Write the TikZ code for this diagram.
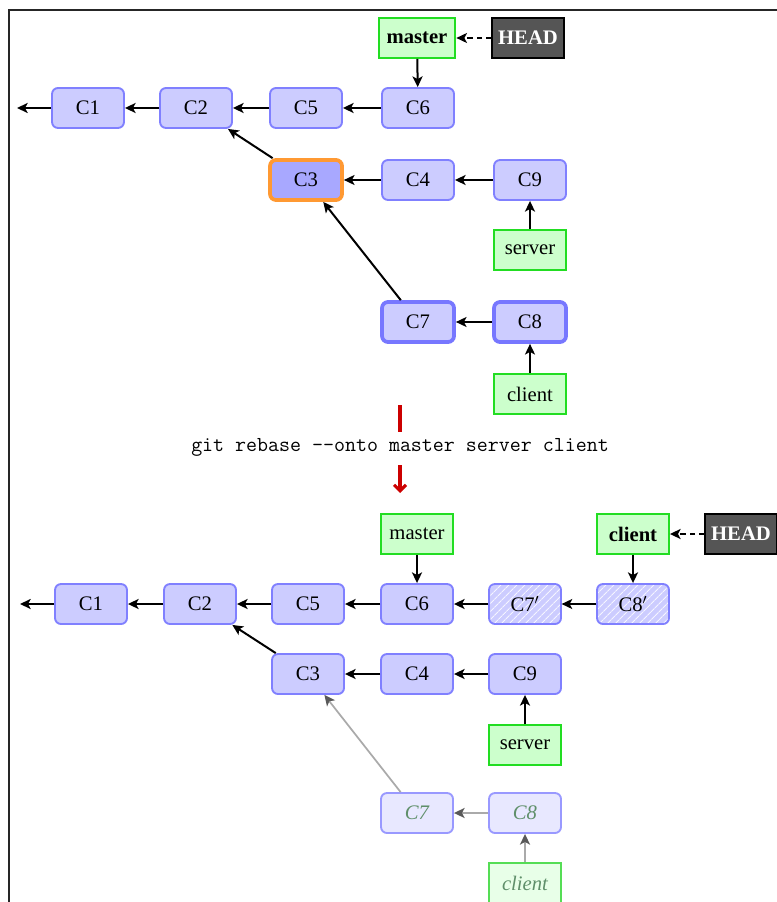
\documentclass[tikz,border=0pt]{standalone}
\usepackage{fontspec}
\setmainfont{Liberation Serif}
\usetikzlibrary{arrows.meta,patterns.meta}
\definecolor{cfill}{HTML}{CCCCFF}
\definecolor{cdraw}{HTML}{8080FF}
\definecolor{cthick}{HTML}{7777FF}
\definecolor{cthreefill}{HTML}{A8A8FF}
\definecolor{orng}{HTML}{FF9933}
\definecolor{gfill}{HTML}{CCFFCC}
\definecolor{gdraw}{HTML}{22DD22}
\definecolor{headfill}{HTML}{555555}
\definecolor{ffill}{HTML}{E8E8FF}
\definecolor{fdraw}{HTML}{9999FF}
\definecolor{fgfill}{HTML}{E8FFE8}
\definecolor{fgdraw}{HTML}{55DD55}
\definecolor{ftext}{HTML}{5F8F6A}
\definecolor{cred}{HTML}{CC0000}
\definecolor{fline}{HTML}{AAAAAA}
\begin{document}
\begin{tikzpicture}[x=0.75pt,y=-0.75pt,
  every node/.style={font=\fontsize{15.5}{18}\selectfont},
  commit/.style={draw=cdraw, fill=cfill, line width=1.4pt, rounded corners=4.5pt,
    minimum width=54pt, minimum height=30pt, inner sep=0pt},
  thickcommit/.style={commit, draw=cthick, line width=2.8pt},
  curcommit/.style={commit, draw=orng, fill=cthreefill, line width=2.8pt},
  hatchcommit/.style={commit, preaction={fill=cfill},
    pattern={Lines[angle=45, distance=4pt, line width=0.9pt]}, pattern color=white!80!cfill},
  fadecommit/.style={commit, draw=fdraw, fill=ffill, text=ftext, font=\fontsize{15.5}{18}\selectfont\itshape},
  branchbox/.style={draw=gdraw, fill=gfill, line width=1.4pt, minimum width=54pt,
    minimum height=30pt, inner xsep=6pt, inner ysep=0pt},
  fadebranch/.style={branchbox, draw=fgdraw, fill=fgfill, text=ftext, font=\fontsize{15.5}{18}\selectfont\itshape},
  headbox/.style={draw=black, fill=headfill, text=white, line width=1pt, minimum width=54pt,
    minimum height=30pt, inner sep=0pt, font=\fontsize{15.5}{18}\selectfont\bfseries},
  arr/.style={-{Stealth[length=8pt,width=7.5pt,inset=2pt]}, line width=1.5pt},
  fadearr/.style={-{Stealth[length=8pt,width=7.5pt,inset=2pt,color=black!65]}, line width=1.3pt, draw=fline},
  headarr/.style={arr, dash pattern=on 4pt off 3pt},
  redline/.style={draw=cred, line width=2.3pt}
]
\useasboundingbox (0,0) rectangle (777,902);
% frame
\draw[line width=1.4pt, black!85] (9,902) -- (9,10) -- (777,10);

% ---------- top ----------
\node[branchbox, font=\fontsize{15.5}{18}\selectfont\bfseries] (master) at (417,38) {master};
\node[headbox] (head) at (528,38) {HEAD};
\node[commit] (c1) at (88,108) {C1};
\node[commit] (c2) at (196,108) {C2};
\node[commit] (c5) at (306,108) {C5};
\node[commit] (c6) at (418,108) {C6};
\node[curcommit] (c3) at (306,180) {C3};
\node[commit] (c4) at (418,180) {C4};
\node[commit] (c9) at (530,180) {C9};
\node[branchbox] (server) at (530,250) {server};
\node[thickcommit] (c7) at (418,322) {C7};
\node[thickcommit] (c8) at (530,322) {C8};
\node[branchbox] (client) at (530,394) {client};
\coordinate (lend) at (17,108);

\draw[headarr] (head) -- (master);
\draw[arr] (master) -- (c6);
\draw[arr] (c1) -- (lend);
\draw[arr] (c2) -- (c1);
\draw[arr] (c5) -- (c2);
\draw[arr] (c6) -- (c5);
\draw[arr] (c3) -- (c2);
\draw[arr] (c4) -- (c3);
\draw[arr] (c9) -- (c4);
\draw[arr] (server) -- (c9);
\draw[arr] (c7) -- (c3);
\draw[arr] (c8) -- (c7);
\draw[arr] (client) -- (c8);

% ---------- middle ----------
\coordinate (r1) at (400,405);
\coordinate (r2) at (400,432);
\coordinate (r3) at (400,465);
\coordinate (r4) at (400,493);
\node[font=\fontsize{16}{18}\selectfont\ttfamily] (cmd) at (400,447) {git rebase --onto master server client};
\draw[redline] (r1) -- (r2);
\draw[redline, -{Straight Barb[length=4.5pt,width=9pt]}] (r3) -- (r4);

% ---------- bottom ----------
\node[branchbox] (masterb) at (417,534) {master};
\node[branchbox, font=\fontsize{15.5}{18}\selectfont\bfseries] (clientb) at (633,534) {client};
\node[headbox] (headb) at (741,534) {HEAD};
\node[commit] (b1) at (91,604) {C1};
\node[commit] (b2) at (200,604) {C2};
\node[commit] (b5) at (308,604) {C5};
\node[commit] (b6) at (417,604) {C6};
\node[hatchcommit] (b7p) at (525,604) {C7$'$};
\node[hatchcommit] (b8p) at (633,604) {C8$'$};
\node[commit] (b3) at (308,674) {C3};
\node[commit] (b4) at (417,674) {C4};
\node[commit] (b9) at (525,674) {C9};
\node[branchbox] (serverb) at (525,745) {server};
\node[fadecommit] (f7) at (417,813) {C7};
\node[fadecommit] (f8) at (525,813) {C8};
\node[fadebranch] (fclient) at (525,883) {client};
\coordinate (lendb) at (20,604);

\draw[headarr] (headb) -- (clientb);
\draw[arr] (masterb) -- (b6);
\draw[arr] (clientb) -- (b8p);
\draw[arr] (b1) -- (lendb);
\draw[arr] (b2) -- (b1);
\draw[arr] (b5) -- (b2);
\draw[arr] (b6) -- (b5);
\draw[arr] (b7p) -- (b6);
\draw[arr] (b8p) -- (b7p);
\draw[arr] (b3) -- (b2);
\draw[arr] (b4) -- (b3);
\draw[arr] (b9) -- (b4);
\draw[arr] (serverb) -- (b9);
\draw[fadearr] (f7) -- (b3);
\draw[fadearr] (f8) -- (f7);
\draw[fadearr] (fclient) -- (f8);
\end{tikzpicture}
\end{document}
